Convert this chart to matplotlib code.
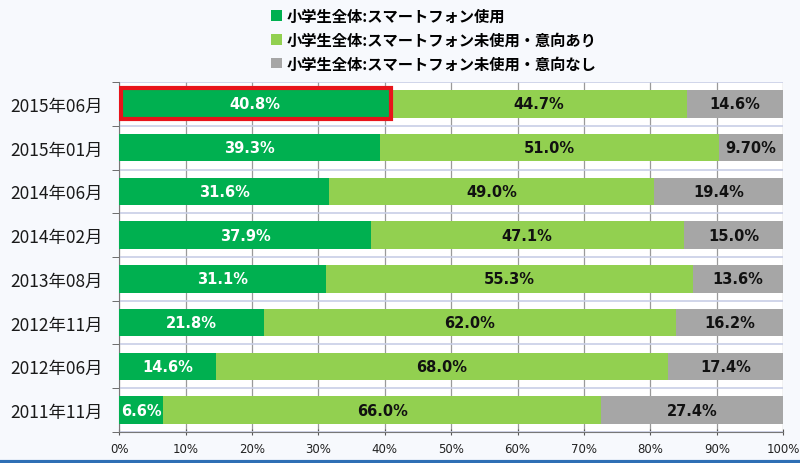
import matplotlib.pyplot as plt
from matplotlib.patches import Patch, Rectangle
from matplotlib.lines import Line2D

plt.rcParams['font.family'] = ['Noto Sans CJK JP', 'DejaVu Sans']

# data, top bar first
dates = ['2015年06月', '2015年01月', '2014年06月', '2014年02月',
         '2013年08月', '2012年11月', '2012年06月', '2011年11月']
use = [40.8, 39.3, 31.6, 37.9, 31.1, 21.8, 14.6, 6.6]
want = [44.7, 51.0, 49.0, 47.1, 55.3, 62.0, 68.0, 66.0]
no_want = [14.6, 9.7, 19.4, 15.0, 13.6, 16.2, 17.4, 27.4]
no_want_labels = ['14.6%', '9.70%', '19.4%', '15.0%', '13.6%', '16.2%', '17.4%', '27.4%']
series_names = ['小学生全体:スマートフォン使用',
                '小学生全体:スマートフォン未使用・意向あり',
                '小学生全体:スマートフォン未使用・意向なし']
colors = ['#00B050', '#92D050', '#A6A6A6']

fig = plt.figure(figsize=(8, 4.64), dpi=100)
fig.patch.set_facecolor('#F7F9FD')
ax = fig.add_axes([0.149, 0.067, 0.830, 0.754])
ax.set_facecolor('white')

y = list(range(len(dates)))
h = 0.63
left2 = [a for a in use]
left3 = [a + b for a, b in zip(use, want)]
ax.barh(y, use, height=h, color=colors[0], zorder=3)
ax.barh(y, want, left=left2, height=h, color=colors[1], zorder=3)
ax.barh(y, no_want, left=left3, height=h, color=colors[2], zorder=3)

lab = dict(ha='center', va='center', fontsize=10.5, fontweight='bold',
           family='DejaVu Sans', zorder=5)
for i in y:
    ax.text(use[i] / 2, i, f'{use[i]:.1f}%', color='white', **lab)
    ax.text(left2[i] + want[i] / 2, i, f'{want[i]:.1f}%', color='#111111', **lab)
    ax.text((left3[i] + 100) / 2, i, no_want_labels[i], color='#111111', **lab)

# red highlight on the latest usage bar
ax.add_patch(Rectangle((0.3, -h / 2 - 0.04), use[0] - 0.1, h + 0.08, fill=False,
                       edgecolor='#E8141B', linewidth=3, zorder=6))

ax.set_xlim(0, 100)
ax.set_ylim(len(dates) - 0.5, -0.5)
ax.set_xticks(range(0, 101, 10))
ax.set_xticklabels([f'{v}%' for v in range(0, 101, 10)], fontsize=8.5,
                   family=['Liberation Sans Narrow', 'DejaVu Sans'], color='#222222')
ax.set_yticks(y)
ax.set_yticklabels(dates, fontsize=12.5, color='#1a1a1a')
ax.tick_params(axis='y', length=0, pad=12)
ax.tick_params(axis='x', length=5, direction='inout', color='#555555', pad=5)
ax.set_yticks([i + 0.5 for i in range(-1, len(dates))], minor=True)
ax.tick_params(axis='y', which='minor', length=5, color='#555555')
ax.grid(axis='x', color='#9a9a9a', linewidth=0.9, zorder=0)
ax.grid(axis='y', which='minor', color='#C8CEE6', linewidth=1.2, zorder=0)
for s in ['top', 'right']:
    ax.spines[s].set_visible(False)
for s in ['left', 'bottom']:
    ax.spines[s].set_color('#777777')

handles = [Patch(facecolor=c, edgecolor='none') for c in colors]
fig.legend(handles, series_names, loc='upper left', bbox_to_anchor=(0.322, 1.01),
           frameon=False, handlelength=0.7, handleheight=0.7,
           handletextpad=0.3, labelspacing=0.5,
           prop={'weight': 'bold', 'size': 11})

fig.add_artist(Line2D([0, 1], [0.003, 0.003], color='#2F6FB5', linewidth=3))

fig.savefig('out.png', dpi=100, facecolor=fig.get_facecolor())
